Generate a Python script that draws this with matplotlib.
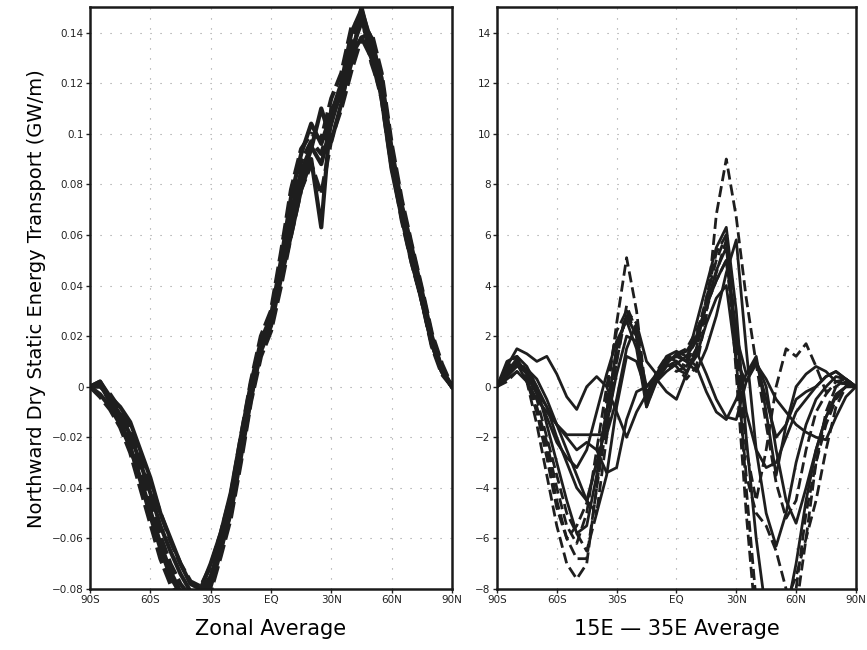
"""
Northward dry static energy transport: zonal average and 15E-35E average.
"""

import numpy as np
from matplotlib import pyplot as plt

# Latitudes (every 5 degrees, 90S -> 90N)
lat = list(range(-90, 95, 5))

# Left panel: zonal average (GW/m)
zonal_1 = [0, 0.002, -0.004, -0.008, -0.014, -0.025, -0.036, -0.050, -0.060, -0.070, -0.078, -0.080, -0.070,
           -0.058, -0.042, -0.020, 0.001, 0.018, 0.028, 0.050, 0.075, 0.092, 0.104, 0.096, 0.108, 0.120,
           0.140, 0.149, 0.136, 0.122, 0.094, 0.072, 0.055, 0.038, 0.020, 0.007, 0]
zonal_2 = [0, -0.004, -0.009, -0.016, -0.026, -0.040, -0.054, -0.068, -0.078, -0.085, -0.088, -0.087, -0.081,
           -0.067, -0.052, -0.030, -0.006, 0.012, 0.022, 0.040, 0.060, 0.078, 0.088, 0.076, 0.098, 0.110,
           0.125, 0.138, 0.140, 0.124, 0.096, 0.074, 0.056, 0.039, 0.021, 0.009, 0]
zonal_3 = [0, 0.001, -0.006, -0.013, -0.024, -0.036, -0.049, -0.062, -0.073, -0.081, -0.086, -0.085, -0.079,
           -0.065, -0.049, -0.026, -0.004, 0.014, 0.024, 0.043, 0.060, 0.078, 0.090, 0.063, 0.110, 0.114,
           0.128, 0.150, 0.134, 0.114, 0.086, 0.067, 0.049, 0.035, 0.017, 0.006, 0]
zonal_4 = [0, 0.000, -0.003, -0.009, -0.016, -0.026, -0.038, -0.050, -0.061, -0.070, -0.077, -0.079, -0.071,
           -0.058, -0.043, -0.020, 0.002, 0.020, 0.030, 0.053, 0.078, 0.094, 0.100, 0.098, 0.114, 0.124,
           0.142, 0.146, 0.130, 0.114, 0.087, 0.068, 0.050, 0.034, 0.016, 0.005, 0]
zonal_5 = [0, -0.003, -0.008, -0.015, -0.024, -0.037, -0.051, -0.064, -0.075, -0.082, -0.085, -0.083, -0.077,
           -0.064, -0.050, -0.028, -0.005, 0.015, 0.026, 0.045, 0.066, 0.082, 0.094, 0.110, 0.097, 0.112,
           0.131, 0.138, 0.130, 0.118, 0.091, 0.069, 0.051, 0.034, 0.017, 0.006, 0]
zonal_6 = [0, 0.002, -0.005, -0.011, -0.019, -0.030, -0.042, -0.055, -0.065, -0.074, -0.081, -0.081, -0.075,
           -0.062, -0.046, -0.023, -0.001, 0.017, 0.026, 0.046, 0.069, 0.085, 0.095, 0.088, 0.104, 0.118,
           0.133, 0.144, 0.138, 0.120, 0.092, 0.071, 0.053, 0.036, 0.019, 0.007, 0]
zonal_7 = [0, 0.001, -0.006, -0.014, -0.022, -0.034, -0.046, -0.059, -0.070, -0.078, -0.083, -0.081, -0.076,
           -0.063, -0.047, -0.025, -0.003, 0.016, 0.025, 0.047, 0.071, 0.089, 0.097, 0.092, 0.106, 0.116,
           0.136, 0.147, 0.128, 0.116, 0.089, 0.066, 0.049, 0.034, 0.017, 0.006, 0]
zonal_curves = [zonal_1, zonal_2, zonal_3, zonal_4, zonal_5, zonal_6, zonal_7]
zonal_dashed = [False, True, False, True, False, False, True]

# Right panel: 15E-35E average
sector_1 = [0, 0.4, 0.9, 0.2, -1.5, -3.5, -5.5, -7.0, -7.6, -7.0, -4.0, -0.5, 2.5, 5.1, 3.0, -0.5, 0.4, 1.0, 0.8,
            0.3, 0.8, 2.8, 6.8, 9.0, 6.7, 3.5, 0.9, -1.5, -3.8, -5.2, -4.5, -2.5, -1.0, -0.3, 0.2, 0.3, 0]
sector_2 = [0, 0.8, 1.0, 0.2, -1.0, -2.5, -4.5, -6.0, -6.8, -6.8, -4.0, -1.5, 1.0, 3.0, 2.5, -0.8, 0.3, 0.9, 0.6,
            0.8, 2.0, 3.5, 5.0, 6.0, 0.5, -5.0, -9.5, -11.0, -11.0, -10.0, -8.0, -5.0, -3.0, -1.5, -0.5, 0, 0]
sector_3 = [0, 1.0, 1.2, 0.8, 0.0, -1.5, -3.0, -4.5, -5.8, -5.5, -3.5, -1.0, 1.5, 2.8, 2.0, -0.5, 0.2, 1.0, 1.2,
            1.0, 2.5, 4.0, 5.5, 6.3, 3.0, -2.0, -6.0, -9.0, -10.0, -9.0, -7.0, -4.5, -2.5, -1.2, -0.4, 0.0, 0]
sector_4 = [0, 0.8, 1.5, 1.3, 1.0, 1.2, 0.5, -0.4, -0.9, 0.0, 0.4, 0.0, -1.0, -2.0, -1.0, -0.3, 0.5, 1.2, 1.4,
            1.2, 0.8, -0.2, -1.0, -1.3, -0.5, 0.5, 1.2, -1.0, -3.5, -1.5, -0.5, -0.2, 0.0, 0.4, 0.6, 0.3, 0]
sector_5 = [0, 0.3, 0.6, 0.2, -0.5, -1.0, -1.5, -2.0, -2.5, -2.2, -2.5, -3.4, -3.2, -1.3, -0.2, 0.0, 0.3, -0.2,
            -0.5, 0.5, 1.4, 0.5, -0.5, -1.2, -1.3, 0.2, 1.0, 0.0, -2.5, -4.5, -5.4, -4.0, -2.5, -1.2, -0.3, 0.0, 0]
sector_6 = [0, 0.5, 1.0, 0.6, -0.2, -0.8, -1.5, -1.9, -1.9, -1.9, -1.9, -1.9, -0.5, 1.5, 2.5, 1.0, 0.5, 0.9, 1.3,
            1.0, 0.6, 1.5, 2.8, 4.5, 5.8, 1.5, -2.5, -5.0, -6.3, -5.0, -3.0, -1.5, -0.5, 0.0, 0.4, 0.3, 0]
sector_7 = [0, 0.6, 1.1, 0.5, -0.3, -1.2, -2.2, -2.8, -3.2, -2.5, -1.0, 0.5, 1.8, 2.6, 1.5, -0.8, 0.2, 0.6, 0.9,
            1.2, 1.8, 3.2, 4.6, 5.5, 2.0, 0.5, 1.0, -0.5, -2.0, -1.5, 0.0, 0.5, 0.8, 0.6, 0.2, 0.1, 0]
sector_8 = [0, 0.9, 1.2, 0.6, -0.5, -2.0, -3.5, -5.0, -5.8, -6.5, -5.0, -2.0, 1.0, 3.2, 2.2, -0.6, 0.6, 1.2, 1.0,
            0.8, 1.5, 3.0, 4.5, 5.8, 2.0, -2.5, -4.5, -2.5, 0.0, 1.5, 1.2, 1.7, 0.8, -0.2, 0.0, 0.3, 0]
sector_9 = [0, 0.7, 1.0, 0.4, -0.8, -2.2, -4.0, -5.5, -6.2, -5.0, -2.5, 0.0, 2.2, 3.0, 2.0, -0.5, 0.5, 1.1, 1.3,
            1.5, 2.2, 3.2, 4.2, 5.0, 1.5, -4.0, -8.5, -10.0, -9.5, -8.5, -7.5, -6.0, -4.5, -2.5, -0.8, 0.0, 0]
sector_10 = [0, 0.4, 0.8, 0.7, 0.3, -0.5, -1.5, -2.5, -3.5, -4.5, -5.0, -3.5, -0.8, 1.2, 1.0, -0.2, 0.2, 0.8, 1.0,
             0.6, 1.2, 2.5, 3.5, 4.0, 1.0, 0.2, 0.9, 0.3, -0.5, -1.0, -1.5, -1.8, -2.0, -2.1, -1.2, -0.4, 0]
sector_11 = [0, 0.5, 0.9, 0.5, 0.0, -0.8, -2.0, -3.0, -4.0, -4.5, -3.0, -1.5, 0.5, 2.0, 1.8, 0.0, 0.5, 1.0, 1.2,
             1.4, 2.0, 3.2, 4.2, 5.0, 2.0, -1.0, -2.5, -3.2, -3.0, -2.0, -1.0, -0.5, 0.0, 0.4, 0.6, 0.3, 0]
sector_12 = [0, 0.2, 0.6, 0.3, -1.0, -2.8, -4.8, -6.0, -5.5, -4.6, -3.0, -1.0, 1.5, 2.8, 2.0, -0.6, 0.4, 0.9, 0.7,
             0.5, 1.5, 3.5, 5.3, 6.0, 1.0, -3.5, -5.0, -5.5, -6.5, -8.0, -8.8, -6.0, -3.0, -1.0, 0.0, 0.2, 0]
sector_curves = [sector_1, sector_2, sector_3, sector_4, sector_5, sector_6,
                 sector_7, sector_8, sector_9, sector_10, sector_11, sector_12]
sector_dashed = [True, True, False, False, False, False, False, True, True, False, False, True]

# Ticks
lat_ticks = [-90, -60, -30, 0, 30, 60, 90]
lat_labels = ["90S", "60S", "30S", "EQ", "30N", "60N", "90N"]
zonal_ticks = [-0.08, -0.06, -0.04, -0.02, 0, 0.02, 0.04, 0.06, 0.08, 0.1, 0.12, 0.14]
zonal_labels = ["\u22120.08", "\u22120.06", "\u22120.04", "\u22120.02", "0", "0.02", "0.04", "0.06",
                "0.08", "0.1", "0.12", "0.14"]
sector_ticks = [-8, -6, -4, -2, 0, 2, 4, 6, 8, 10, 12, 14]
sector_labels = ["\u22128", "\u22126", "\u22124", "\u22122", "0", "2", "4", "6", "8", "10", "12", "14"]


def style_axes(ax, yticks, ylabels, ylim):
    ax.set_xlim(-90, 90)
    ax.set_ylim(*ylim)
    ax.set_xticks(lat_ticks)
    ax.set_xticklabels(lat_labels)
    ax.set_yticks(yticks)
    ax.set_yticklabels(ylabels)
    ax.tick_params(direction="out", length=3, width=1, labelsize=7.5, pad=1.5, colors="#222222")
    ax.grid(True, color="#999999", linestyle=(0, (1, 8)), linewidth=0.8)
    for spine in ax.spines.values():
        spine.set_linewidth(1.8)
        spine.set_color("#1a1a1a")


def main() -> None:
    fig = plt.figure(figsize=(8.67, 6.5), dpi=100)
    ax1 = fig.add_axes([0.1038, 0.0938, 0.4175, 0.895])
    ax2 = fig.add_axes([0.5732, 0.0938, 0.414, 0.895])

    for values, dashed in zip(zonal_curves, zonal_dashed):
        ls = (0, (4, 1.3)) if dashed else "-"
        ax1.plot(lat, values, color="#1e1e1e", linewidth=3.0, linestyle=ls, solid_joinstyle="round")

    for values, dashed in zip(sector_curves, sector_dashed):
        ls = (0, (4, 1.8)) if dashed else "-"
        ax2.plot(lat, values, color="#1e1e1e", linewidth=2.0, linestyle=ls, solid_joinstyle="round")

    style_axes(ax1, zonal_ticks, zonal_labels, (-0.08, 0.15))
    style_axes(ax2, sector_ticks, sector_labels, (-8, 15))

    ax1.set_xlabel("Zonal Average", fontsize=15, labelpad=10)
    ax2.set_xlabel("15E \u2014 35E Average", fontsize=15, labelpad=10)
    ax1.set_ylabel("Northward Dry Static Energy Transport (GW/m)", fontsize=14, labelpad=4)

    fig.savefig("out.png", dpi=100)

    return


if __name__ == "__main__":
    main()
